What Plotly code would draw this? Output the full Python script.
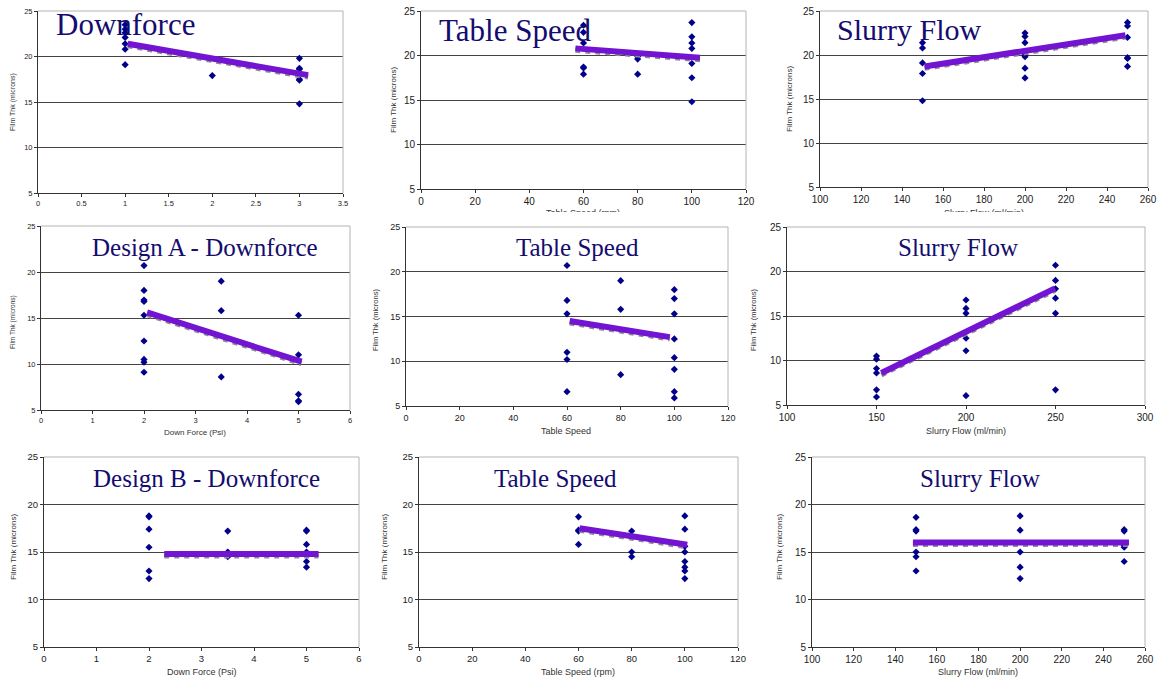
import plotly.graph_objects as go

W, H = 1157, 681

# ---------------- data ----------------
y_title = "Film Thk (microns)"

p1_x = [1, 1, 1, 1, 1, 1, 1, 2, 3, 3, 3, 3, 3, 3]
p1_y = [23.5, 23.0, 22.6, 22.1, 21.4, 20.8, 19.1, 17.9, 19.8, 18.7, 18.6, 17.5, 17.4, 14.8]
p1_tx = [1.03, 3.1]
p1_ty = [21.4, 17.95]

p2_x = [60, 60, 60, 60, 60, 60, 80, 80, 80, 100, 100, 100, 100, 100, 100, 100]
p2_y = [23.4, 22.6, 21.4, 18.7, 18.6, 17.9, 19.9, 19.6, 17.9, 23.7, 22.1, 21.4, 20.8, 19.1, 17.5, 14.8]
p2_tx = [57, 103]
p2_ty = [20.8, 19.75]

p3_x = [150, 150, 150, 150, 150, 200, 200, 200, 200, 200, 200, 200, 250, 250, 250, 250, 250, 250]
p3_y = [21.4, 20.8, 19.1, 17.9, 14.8, 22.5, 22.1, 21.4, 20.0, 19.8, 18.5, 17.4, 23.7, 23.3, 22.0, 19.7, 19.6, 18.7]
p3_tx = [151, 249]
p3_ty = [18.7, 22.25]

p4_x = [2, 2, 2, 2, 2, 2, 2, 2, 2, 3.5, 3.5, 3.5, 5, 5, 5, 5, 5]
p4_y = [20.7, 18.0, 16.95, 16.8, 15.3, 12.5, 10.5, 10.2, 9.1, 19.0, 15.8, 8.6, 15.3, 11.0, 6.7, 6.0, 5.9]
p4_tx = [2.06, 5.06]
p4_ty = [15.6, 10.25]

p5_x = [60, 60, 60, 60, 60, 60, 80, 80, 80, 100, 100, 100, 100, 100, 100, 100, 100]
p5_y = [20.7, 16.8, 15.3, 11.0, 10.2, 6.6, 19.0, 15.8, 8.5, 18.0, 17.0, 15.3, 12.5, 10.4, 9.1, 6.6, 5.9]
p5_tx = [61, 98.3]
p5_ty = [14.5, 12.7]

p6_x = [150, 150, 150, 150, 150, 150, 200, 200, 200, 200, 200, 200, 250, 250, 250, 250, 250, 250]
p6_y = [10.5, 10.15, 9.1, 8.6, 6.7, 5.9, 16.8, 15.85, 15.3, 12.5, 11.1, 6.05, 20.7, 19.0, 18.05, 17.0, 15.3, 6.7]
p6_tx = [152.7, 249.7]
p6_ty = [8.6, 18.1]

p7_x = [2, 2, 2, 2, 2, 2, 3.5, 3.5, 3.5, 5, 5, 5, 5, 5, 5]
p7_y = [18.8, 18.7, 17.4, 15.5, 13.0, 12.2, 17.2, 15.0, 14.5, 17.3, 17.2, 15.8, 15.0, 14.0, 13.4]
p7_tx = [2.29, 5.23]
p7_ty = [14.8, 14.8]

p8_x = [60, 60, 60, 60, 80, 80, 80, 100, 100, 100, 100, 100, 100, 100, 100]
p8_y = [18.7, 17.3, 17.2, 15.8, 17.2, 15.0, 14.5, 18.8, 17.4, 15.6, 15.0, 14.0, 13.4, 13.0, 12.2]
p8_tx = [60.4, 100.9]
p8_ty = [17.5, 15.77]

p9_x = [150, 150, 150, 150, 150, 150, 200, 200, 200, 200, 200, 250, 250, 250, 250, 250]
p9_y = [18.65, 17.35, 17.2, 15.0, 14.5, 13.0, 18.8, 17.3, 15.0, 13.4, 12.2, 17.35, 17.2, 15.7, 15.5, 14.0]
p9_tx = [148.5, 252.3]
p9_ty = [16.0, 16.0]

titles = ["Downforce", "Table Speed", "Slurry Flow",
          "Design A - Downforce", "Table Speed", "Slurry Flow",
          "Design B - Downforce", "Table Speed", "Slurry Flow"]
x_titles = [None, "Table Speed (rpm)", "Slurry Flow (ml/min)",
            "Down Force (Psi)", "Table Speed", "Slurry Flow (ml/min)",
            "Down Force (Psi)", "Table Speed (rpm)", "Slurry Flow (ml/min)"]
x_ranges = [[0, 3.5], [0, 120], [100, 260], [0, 6], [0, 120], [100, 300],
            [0, 6], [0, 120], [100, 260]]
x_dticks = [0.5, 20, 20, 1, 20, 50, 1, 20, 20]
y_range = [5, 25]

panels = [(p1_x, p1_y, p1_tx, p1_ty), (p2_x, p2_y, p2_tx, p2_ty), (p3_x, p3_y, p3_tx, p3_ty),
          (p4_x, p4_y, p4_tx, p4_ty), (p5_x, p5_y, p5_tx, p5_ty), (p6_x, p6_y, p6_tx, p6_ty),
          (p7_x, p7_y, p7_tx, p7_ty), (p8_x, p8_y, p8_tx, p8_ty), (p9_x, p9_y, p9_tx, p9_ty)]

# ---------------- layout (pixel boxes) ----------------
boxes = [(38, 11, 343, 193), (421, 11, 746, 189), (820, 11, 1148, 187),
         (41, 226, 350, 410), (406, 227, 728, 406), (787, 227, 1145, 405),
         (44, 457, 359, 647), (419, 457, 738, 647), (812, 457, 1145, 647)]
tick_sizes = [7.5, 10, 10, 7.5, 9, 10, 9.5, 9.5, 10]
title_pos = [(125, 25, 31), (515, 30, 31), (909, 29, 30),
             (205, 248, 25), (577, 248, 25), (958, 248, 25),
             (206, 478, 25), (555, 478, 25), (980, 478, 25)]
ytitle_pos = [(13, 102, 7), (393, 100, 8), (789, 99, 8),
              (13, 322, 6.5), (375, 320, 7.5), (753, 320, 7.5),
              (13, 547, 8), (384, 547, 8), (779, 547, 8)]
xtitle_pos = [None, None, None,
              (195, 432, 8), (566, 431, 9), (966, 431, 9),
              (202, 672, 9), (578, 672, 9), (978, 672, 9)]

MARKER = "#00008B"
TREND = "#7314d2"
TITLE_C = "#140c6e"
AX = "#333333"

def px_x(v):
    return v / W

def px_y(v):
    return 1 - v / H

fig = go.Figure()
layout = dict(width=W, height=H, margin=dict(l=0, r=0, t=0, b=0, autoexpand=False),
              paper_bgcolor="white", plot_bgcolor="white", showlegend=False)
annotations = []
shapes = []

for i, ((xs, ys, tx, ty), box) in enumerate(zip(panels, boxes)):
    n = i + 1
    xa = "x" if n == 1 else f"x{n}"
    ya = "y" if n == 1 else f"y{n}"
    l, t, r, b = box
    layout["xaxis" if n == 1 else f"xaxis{n}"] = dict(
        domain=[px_x(l), px_x(r)], anchor=ya, range=x_ranges[i], dtick=x_dticks[i],
        automargin=False,
        showgrid=False, zeroline=False, showline=True, linecolor=AX, linewidth=1,
        ticks="outside", ticklen=3, tickcolor=AX,
        tickfont=dict(family="Liberation Sans, Arial", size=tick_sizes[i], color="#222"))
    layout["yaxis" if n == 1 else f"yaxis{n}"] = dict(
        domain=[px_y(b), px_y(t)], anchor=xa, range=y_range, dtick=5,
        automargin=False,
        showgrid=True, gridcolor="#444444", gridwidth=1, zeroline=False,
        showline=True, linecolor=AX, linewidth=1,
        ticks="outside", ticklen=3, tickcolor=AX,
        tickfont=dict(family="Liberation Sans, Arial", size=tick_sizes[i], color="#222"))
    # light border on top and right
    shapes.append(dict(type="line", xref=f"{xa} domain", yref=f"{ya} domain",
                       x0=0, x1=1, y0=1, y1=1, line=dict(color="#b4b4b4", width=1), layer="above"))
    shapes.append(dict(type="line", xref=f"{xa} domain", yref=f"{ya} domain",
                       x0=1, x1=1, y0=0, y1=1, line=dict(color="#b4b4b4", width=1), layer="above"))

    fig.add_trace(go.Scatter(x=xs, y=ys, mode="markers", xaxis=xa, yaxis=ya,
                             marker=dict(symbol="diamond", size=5.5, color=MARKER),
                             cliponaxis=False, hoverinfo="x+y"))
    # trend line with grey shadow
    shadow_y = [v - 0.22 for v in ty]
    fig.add_trace(go.Scatter(x=tx, y=shadow_y, mode="lines", xaxis=xa, yaxis=ya,
                             line=dict(color="#8c8c8c", width=5, dash="dot"),
                             hoverinfo="skip"))
    fig.add_trace(go.Scatter(x=tx, y=ty, mode="lines", xaxis=xa, yaxis=ya,
                             line=dict(color=TREND, width=6), hoverinfo="skip"))

    cx, cy, fs = title_pos[i]
    annotations.append(dict(text=titles[i], xref="paper", yref="paper",
                            x=px_x(cx), y=px_y(cy), xanchor="center", yanchor="middle",
                            showarrow=False,
                            font=dict(family="Liberation Serif, Times New Roman, serif",
                                      size=fs, color=TITLE_C)))
    yx, yy, yfs = ytitle_pos[i]
    annotations.append(dict(text=y_title, xref="paper", yref="paper",
                            x=px_x(yx), y=px_y(yy), xanchor="center", yanchor="middle",
                            textangle=-90, showarrow=False,
                            font=dict(family="Liberation Sans, Arial", size=yfs, color="#333")))
    if xtitle_pos[i] is not None:
        xx, xy, xfs = xtitle_pos[i]
        annotations.append(dict(text=x_titles[i], xref="paper", yref="paper",
                                x=px_x(xx), y=px_y(xy), xanchor="center", yanchor="middle",
                                showarrow=False,
                                font=dict(family="Liberation Sans, Arial", size=xfs, color="#333")))

# cropped x-axis titles of the top row (only their upper part is visible)
cut_x = [583, 984]
cut_y = [214, 214]
cut_text = [x_titles[1], x_titles[2]]
layout["xaxis10"] = dict(domain=[0, 1], range=[0, W], visible=False, anchor="y10",
                         fixedrange=True, automargin=False)
layout["yaxis10"] = dict(domain=[px_y(212), px_y(200)], range=[212, 200], visible=False,
                         anchor="x10", fixedrange=True, automargin=False)
fig.add_trace(go.Scatter(x=cut_x, y=cut_y, mode="text", text=cut_text, xaxis="x10", yaxis="y10",
                         textposition="middle center", cliponaxis=True, hoverinfo="skip",
                         textfont=dict(family="Liberation Sans, Arial", size=9, color="#333")))

layout["annotations"] = annotations
layout["shapes"] = shapes
fig.update_layout(**layout)
fig.write_html("out.html", config={"displayModeBar": False},
               post_script="document.body.style.margin='0px';document.body.style.overflow='hidden';")
